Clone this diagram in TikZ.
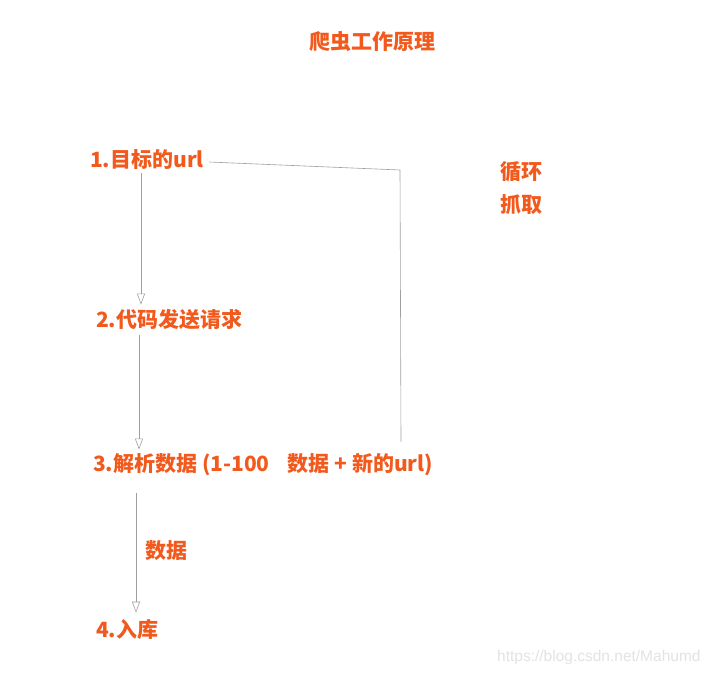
\documentclass[tikz,border=0pt]{standalone}
\usepackage{fontspec}
\setmainfont{Noto Sans CJK SC}
\newfontfamily\markfont{Liberation Sans}
\usetikzlibrary{arrows.meta}
\definecolor{stepred}{HTML}{F2591C}
\definecolor{flowgray}{HTML}{A0A0A0}

\begin{document}
\begin{tikzpicture}[x=1pt,y=-1pt,
    steptext/.style={anchor=west,inner sep=0pt,text=stepred,font=\fontsize{21}{24}\selectfont\bfseries},
    flow/.style={draw=flowgray,line width=0.6pt,-{Triangle[open,length=11pt,width=8pt]}},
    loop/.style={draw=flowgray,line width=0.6pt}]
    \useasboundingbox[fill=white] (0,0) rectangle (711,676);

    \node[steptext,anchor=center] (title) at (372,42) {爬虫工作原理};

    \node[steptext] (n1) at (90,160) {1.目标的url};
    \node[steptext] (n2) at (96,320) {2.代码发送请求};
    \node[steptext] (n3) at (93,465) {3.解析数据 (1-100\hspace{18pt}数据 + 新的url)};
    \node[steptext] (n4) at (96,629) {4.入库};
    \node[steptext] (d) at (145,551) {数据};

    \node[steptext,anchor=center] (xh) at (521,172) {循环};
    \node[steptext,anchor=center] (zq) at (521,205) {抓取};

    % arrows down the left side
    \draw[flow] ([xshift=51pt,yshift=-3pt]n1.south west) -- ([xshift=51pt,yshift=5pt]n1.south west |- n2.north);
    \draw[flow] ([xshift=49pt,yshift=-5pt]n1.south west |- n2.south) -- ([xshift=49pt,yshift=4pt]n1.south west |- n3.north);
    \draw[flow] ([xshift=46pt,yshift=-17pt]n1.south west |- n3.south) -- ([xshift=46pt,yshift=6pt]n1.south west |- n4.north);

    % loop back line
    \coordinate (turn) at (400,170);
    \draw[loop] ([xshift=5pt,yshift=-2pt]n1.east) -- (turn) -- ([xshift=1pt,yshift=12pt]turn |- n3.north);

    \node[anchor=west,inner sep=0pt,text=gray!22,font=\markfont\fontsize{15.5}{17}\selectfont] (mark) at (497,657) {https://blog.csdn.net/Mahumd};
\end{tikzpicture}
\end{document}
